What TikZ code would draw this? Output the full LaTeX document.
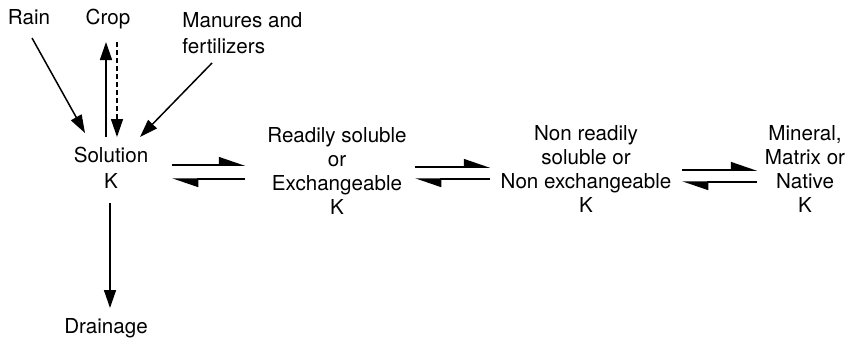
\documentclass[tikz,border=0pt]{standalone}
\usepackage{fontspec}
\setmainfont{TeX Gyre Heros}
\usepackage{tikz}
\usetikzlibrary{arrows.meta}
\usetikzlibrary{positioning}

\begin{document}
\begin{tikzpicture}[x=.5pt,y=-.5pt,every node/.style={inner sep=0pt,anchor=base,
    align=center,font=\fontsize{10.3}{12}\selectfont},
  arr/.style={-{Triangle[length=9pt,width=6pt]},line width=.75pt},
  harp/.style={-{Triangle[harpoon,length=12pt,width=8pt]},line width=.75pt}]

  \useasboundingbox (0,0) rectangle (854,345);

  % inputs and outputs
  \node (rain) at (29,24) {Rain};
  \node (crop) at (108,24) {Crop};
  \node[anchor=base west,align=left,font=\fontsize{10.3}{13}\selectfont] (manure) at (182,53) {Manures and\\fertilizers};
  \node (drain) at (106,333) {Drainage};

  % pools of K (base is the last line)
  \node[font=\fontsize{10.3}{13}\selectfont] (sol) at (111,188) {Solution\\K};
  \node (exch) at (337,214) {Readily soluble\\or\\Exchangeable\\K};
  \node (nonex) at (586,212) {Non readily\\soluble or\\Non exchangeable\\K};
  \node (mineral) at (805,212) {Mineral,\\Matrix or\\Native\\K};

  % fluxes to and from solution
  \draw[arr] ([shift={(3,14)}]rain.base) -- ([shift={(-26,-55)}]sol.base);
  \draw[arr] ([shift={(-5,-51)}]sol.base) -- ([shift={(-2,18)}]crop.base);
  \draw[arr,dash pattern=on 2.5pt off 1.5pt] ([shift={(9,18)}]crop.base) -- ([shift={(6,-51)}]sol.base);
  \draw[arr] ([shift={(30,10)}]manure.base west) -- ([shift={(29,-51)}]sol.base);
  \draw[arr] ([shift={(-1,15)}]sol.base) -- ([shift={(4,-25)}]drain.base);

  % equilibria
  \draw[harp] ([shift={(61,-23)}]sol.base) -- ([shift={(-92,-49)}]exch.base);
  \draw[harp] ([shift={(-92,-35)}]exch.base) -- ([shift={(61,-9)}]sol.base);

  \draw[harp] ([shift={(78,-47)}]exch.base) -- ([shift={(-96,-45)}]nonex.base);
  \draw[harp] ([shift={(-96,-33)}]nonex.base) -- ([shift={(78,-35)}]exch.base);

  \draw[harp] ([shift={(96,-42)}]nonex.base) -- ([shift={(-48,-42)}]mineral.base);
  \draw[harp] ([shift={(-48,-30)}]mineral.base) -- ([shift={(96,-30)}]nonex.base);

\end{tikzpicture}
\end{document}
